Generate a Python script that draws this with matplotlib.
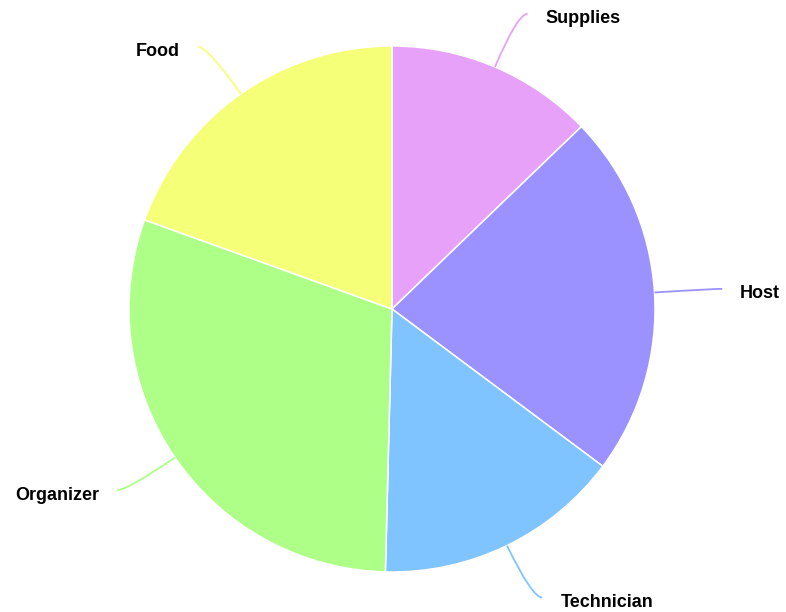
import numpy as np
import matplotlib.pyplot as plt
from matplotlib.path import Path
from matplotlib.patches import PathPatch

# slice data, clockwise from 12 o'clock
labels = ['Supplies', 'Host', 'Technician', 'Organizer', 'Food']
values = [12.8, 22.4, 15.2, 30.1, 19.5]
colors = ['#E8A1F9', '#9B91FF', '#80C4FF', '#ADFF88', '#F6FF78']

W, H = 786, 612
cx, cy, r = 392, H - 309, 263

fig = plt.figure(figsize=(W / 100, H / 100), dpi=100)
ax = fig.add_axes([0, 0, 1, 1])

wedges, _ = ax.pie(values, colors=colors, startangle=90, counterclock=False,
                   center=(cx, cy), radius=r,
                   wedgeprops=dict(edgecolor='white', linewidth=1.1))

# pie() resets the limits, so set pixel-like limits afterwards
ax.set_xlim(0, W)
ax.set_ylim(0, H)
ax.set_aspect('equal')
ax.axis('off')

# leader lines: radial out from the edge, then bending to horizontal
for w, lab, col in zip(wedges, labels, colors):
    mid = np.deg2rad((w.theta1 + w.theta2) / 2)
    dx, dy = np.cos(mid), np.sin(mid)
    sign = 1 if dx >= 0 else -1
    p0 = (cx + r * dx, cy + r * dy)
    c = (cx + 1.22 * r * dx, cy + 1.22 * r * dy)
    e = (c[0] + sign * 10, c[1])
    path = Path([p0, c, e], [Path.MOVETO, Path.CURVE3, Path.CURVE3])
    ax.add_patch(PathPatch(path, facecolor='none', edgecolor=col, lw=1.3))
    ax.text(e[0] + sign * 18, e[1] - 5, lab, ha='left' if sign > 0 else 'right',
            va='center', fontsize=13, fontweight='bold', family='Liberation Sans',
            color='black')

plt.savefig('out.png', dpi=100, facecolor='white')
